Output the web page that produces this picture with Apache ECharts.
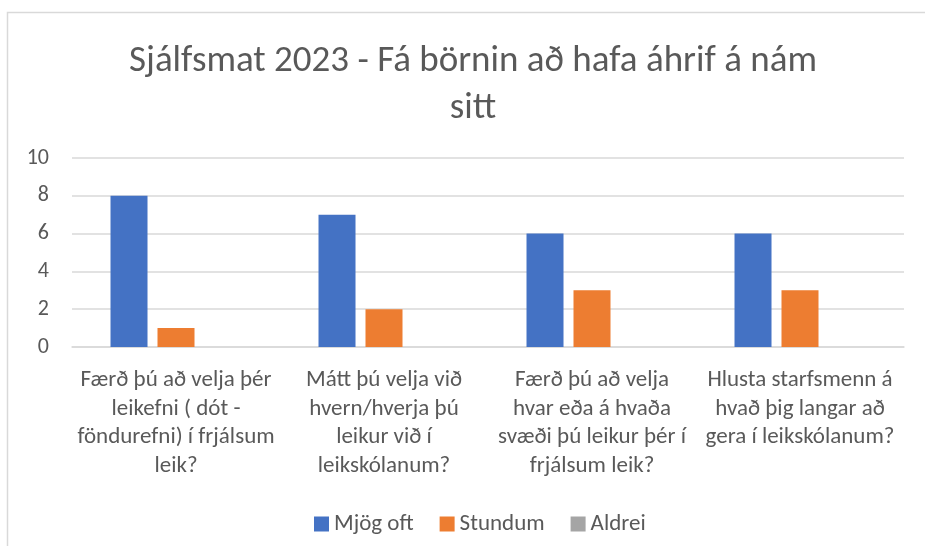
<!DOCTYPE html>
<html>
<head>
<meta charset="utf-8">
<script src="https://cdn.jsdelivr.net/npm/echarts@6/dist/echarts.min.js"></script>
<style>
html,body{margin:0;padding:0;background:#fff;}
#c{width:925px;height:546px;}
</style>
</head>
<body>
<div id="c"></div>
<script>
var titleText = 'Sjálfsmat 2023 - Fá börnin að hafa áhrif á nám\nsitt';
var categories = [
  'Færð þú að velja þér\nleikefni ( dót -\nföndurefni) í frjálsum\nleik?',
  'Mátt þú velja við\nhvern/hverja þú\nleikur við í\nleikskólanum?',
  'Færð þú að velja\nhvar eða á hvaða\nsvæði þú leikur þér í\nfrjálsum leik?',
  'Hlusta starfsmenn á\nhvað þig langar að\ngera í leikskólanum?'
];
var seriesNames = ['Mjög oft', 'Stundum', 'Aldrei'];
var mjogOft = [8, 7, 6, 6];
var stundum = [1, 2, 3, 3];
var aldrei = [0, 0, 0, 0];
var yTicks = {min: 0, max: 10, interval: 2};

var colors = ['#4472C4', '#ED7D31', '#A5A5A5'];
var fontFam = 'Calibri, Carlito, "Open Sans", "Liberation Sans", sans-serif';
var chart = echarts.init(document.getElementById('c'));
chart.setOption({
  animation: false,
  color: colors,
  title: {
    text: titleText,
    left: 468, top: 33, textAlign: 'center',
    textStyle: {fontFamily: fontFam, fontSize: 37, fontWeight: 'normal', color: '#595959', lineHeight: 47}
  },
  graphic: [{
    type: 'rect', silent: true,
    shape: {x: 7.5, y: 12.5, width: 1000, height: 1000},
    style: {fill: 'none', stroke: '#d9d9d9', lineWidth: 1.5}
  }],
  legend: {
    data: seriesNames,
    top: 506, left: 309,
    itemWidth: 15, itemHeight: 15, itemGap: 26,
    icon: 'rect',
    textStyle: {fontFamily: fontFam, fontSize: 23, lineHeight: 26, color: '#595959', padding: [0, 0, 0, 0]}
  },
  grid: {left: 72, right: 21, top: 158, bottom: 199},
  xAxis: {
    type: 'category', data: categories,
    axisLine: {lineStyle: {color: '#d9d9d9', width: 1.5}},
    axisTick: {show: false},
    axisLabel: {interval: 0, margin: 19, fontFamily: fontFam, fontSize: 23, color: '#595959', lineHeight: 28.5}
  },
  yAxis: {
    type: 'value', min: yTicks.min, max: yTicks.max, interval: yTicks.interval,
    axisLine: {show: false}, axisTick: {show: false},
    splitLine: {lineStyle: {color: '#d9d9d9', width: 1.5}},
    axisLabel: {margin: 23, fontFamily: fontFam, fontSize: 22, color: '#595959'}
  },
  series: [
    {name: seriesNames[0], type: 'bar', data: mjogOft, barWidth: 37, barGap: '27%'},
    {name: seriesNames[1], type: 'bar', data: stundum, barWidth: 37, barGap: '27%'},
    {name: seriesNames[2], type: 'bar', data: aldrei, barWidth: 37, barGap: '27%'}
  ]
});
</script>
</body>
</html>
